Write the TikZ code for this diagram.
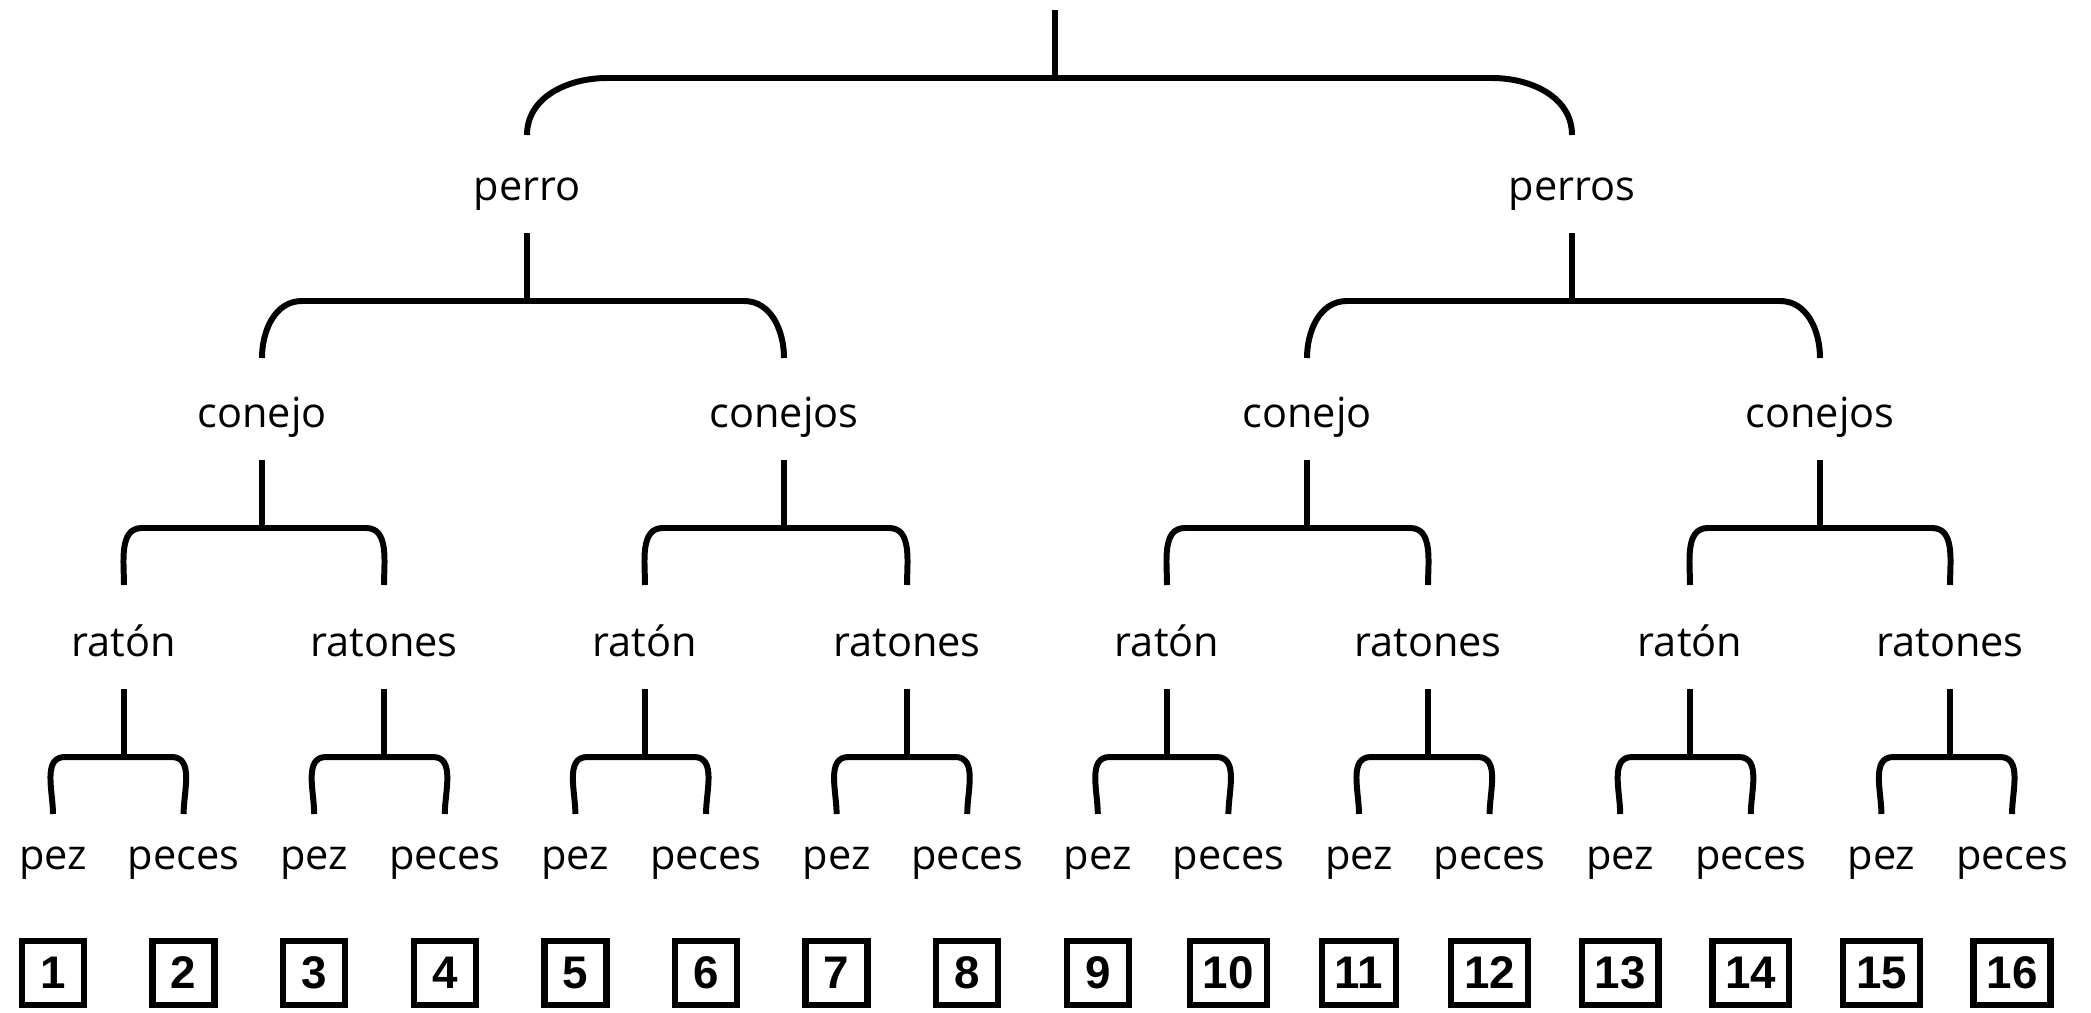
\documentclass[tikz,border=0pt]{standalone}
\usepackage{fontspec}
\setmainfont{Open Sans}
\newfontfamily\boxfont{Liberation Sans}
\usepackage{tikz}
\usetikzlibrary{calc, positioning}
\tikzstyle{forkline} = [line width=1.7pt, black]
\tikzstyle{word} = [inner sep=0pt, anchor=base, font=\fontsize{11.8}{14}\selectfont]
\tikzstyle{numbox} = [draw, line width=1.8pt, inner xsep=0.13cm, minimum width=0.62cm, minimum height=0.64cm, font=\boxfont\bfseries\fontsize{13}{15}\selectfont]
\newcommand{\fork}[4]{%
    \draw[forkline] ($(#1.base)+(0,33)$) -- ($(#1.base)+(0,101)$);
    \draw[forkline] ($(#2.base |- #1.base)+(0,158)$) to[out=90,in=180] ($(#2.base |- #1.base)+(#4,101)$)
        -- ($(#3.base |- #1.base)+(-#4,101)$) to[out=0,in=90] ($(#3.base |- #1.base)+(0,158)$);
}

\begin{document}
\begin{tikzpicture}[x=0.01cm, y=-0.01cm]
                \useasboundingbox (0,0) rectangle (2091,1012);
                \node[word] (root) at (1055,-23) {};
                \node[word] (p1) at (527,200) {perro};
                \node[word] (p2) at (1572,200) {perros};
                \foreach \k/\x/\t in {1/262/conejo, 2/784/conejos, 3/1307/conejo, 4/1820/conejos}
                    \node[word] (c\k) at (\x,427) {\t};
                \foreach \k/\x in {1/124, 2/384, 3/645, 4/907, 5/1167, 6/1428, 7/1690, 8/1950}
                    \node[word] (r\k) at (\x,656) {\ifodd\k\relax ratón\else ratones\fi};
                \foreach \i in {1,...,16} {
                    \pgfmathsetmacro\x{53+130.6*(\i-1)}
                    \node[word] (l\i) at (\x,869) {\ifodd\i\relax pez\else peces\fi};
                    \node[numbox] (b\i) at (\x,973) {\i};
                }
                \fork{root}{p1}{p2}{80}
                \fork{p1}{c1}{c2}{40}
                \fork{p2}{c3}{c4}{40}
                \foreach \k [evaluate=\k as \a using int(2*\k-1), evaluate=\k as \b using int(2*\k)] in {1,...,4} {
                    \fork{c\k}{r\a}{r\b}{18}
                }
                \foreach \k [evaluate=\k as \a using int(2*\k-1), evaluate=\k as \b using int(2*\k)] in {1,...,8} {
                    \fork{r\k}{l\a}{l\b}{12}
                }
            \end{tikzpicture}
\end{document}
